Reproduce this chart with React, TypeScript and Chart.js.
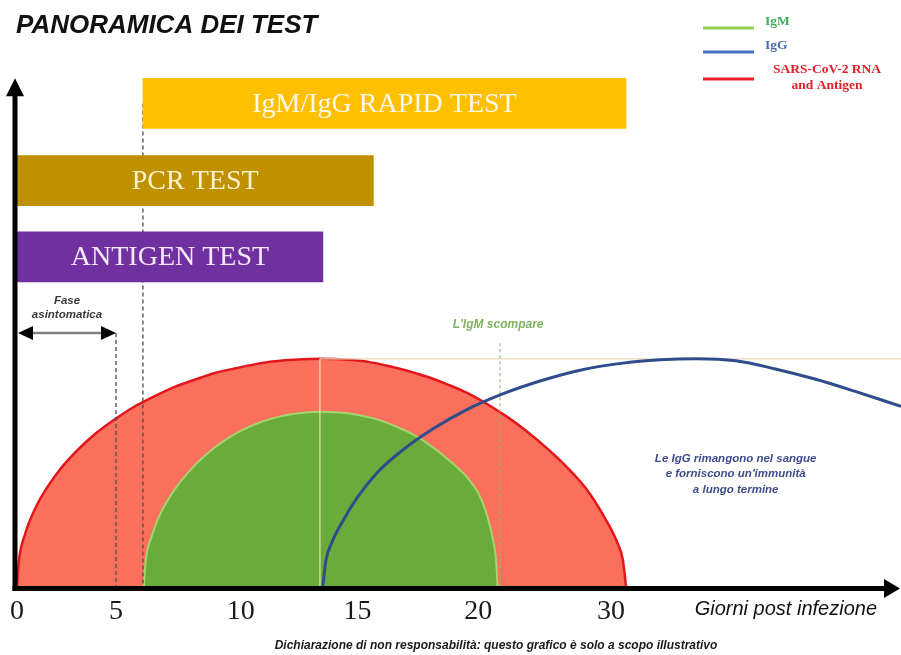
import React, { useEffect, useRef } from 'react';
import { Chart, registerables } from 'chart.js';

Chart.register(...registerables);

// ---------- text ----------
const chartTitle = 'PANORAMICA DEI TEST';
const xAxisTitle = 'Giorni post infezione';
const disclaimer = 'Dichiarazione di non responsabilità: questo grafico è solo a scopo illustrativo';
const asymptomaticLabel = ['Fase', 'asintomatica'];
const igmGoneLabel = "L'IgM scompare";
const iggNote = ['Le IgG rimangono nel sangue', "e forniscono un'immunità", 'a lungo termine'];

// ---------- x axis ticks ----------
const tickLabels = ['0', '5', '10', '15', '20', '30'];
const tickDays = [0, 5, 11.3, 17.2, 23.3, 30];
const xMax = 44.65;
const yMax = 104.2;

// ---------- test windows (floating bars) ----------
const testNames = ['IgM/IgG RAPID TEST', 'PCR TEST', 'ANTIGEN TEST'];
const testStart = [6.36, 0, 0];
const testEnd = [30.76, 18.0, 15.45];
const testLevel = [95.6, 80.3, 65.2];

// ---------- curves ----------
const rnaDays = [0, 0.1, 0.4, 1, 2, 3, 4, 5, 6, 7, 8, 9, 10, 11, 12, 13, 14, 15.38, 16.76, 17.76, 18.76, 19.76, 20.76, 21.76, 22.76, 23.76, 24.76, 25.76, 26.76, 27.76, 28.76, 29.76, 30.3, 30.6, 30.76];
const rnaLevel = [0, 5.1, 10.2, 16.0, 22.2, 26.7, 30.3, 33.2, 35.7, 37.7, 39.5, 40.9, 42.2, 43.1, 43.9, 44.5, 44.8, 45.0, 44.8, 44.4, 43.6, 42.6, 41.4, 39.9, 38.2, 36.0, 33.5, 30.6, 27.3, 23.6, 19.2, 13.0, 8.8, 5.2, 0];

const igmDays = [6.41, 6.5, 6.8, 7.2, 8, 9, 10, 11, 12, 13, 14, 15.35, 16.7, 18, 19.2, 20.2, 21.2, 22.0, 22.8, 23.4, 23.85, 24.08, 24.2, 24.27];
const igmLevel = [0, 4.9, 9.8, 14.0, 19.3, 24.0, 27.5, 30.1, 32.0, 33.3, 34.1, 34.5, 34.2, 33.2, 31.5, 29.6, 26.9, 24.3, 21.2, 17.6, 12.5, 8.5, 5.0, 0];

const iggDays = [15.45, 15.6, 15.9, 16.4, 17.2, 18.2, 19.5, 21, 22.7, 24.5, 26.5, 28.5, 30.5, 32.5, 34.3, 36.3, 38.3, 40.3, 42.3, 44.65];
const iggLevel = [0, 5.0, 8.6, 12.5, 17.6, 22.5, 27.0, 31.1, 34.9, 38.0, 40.7, 42.8, 44.1, 44.8, 45.0, 44.6, 43.0, 41.0, 38.6, 35.6];

// ---------- annotation values ----------
const asymptomaticEnd = 5.0;
const asymptomaticLevel = 50.1;
const peakDay = 15.3;
const peakLevel = 45;
const igmGoneDay = 24.4;
const igmGoneTop = 48.1;
const igmGoneTextLevel = 51.7;
const iggNoteDay = 36.3;
const iggNoteLevel = 22.2;

// ---------- styles ----------
const barColors = ['#FFC000', '#BF9000', '#7030A0'];
const barTextColors = ['#FFF8EA', '#FFF2CC', '#F4E8FB'];
const rnaFill = '#FB6F5D';
const rnaLine = '#E3161B';
const igmFill = '#69AC3C';
const igmLine = '#A2D56C';
const iggLine = '#2E4D8A';
const legendItems = [
  { lines: ['IgM'], line: '#92D050', text: '#3DAE5A', y: 28 },
  { lines: ['IgG'], line: '#4472C4', text: '#4A6DB0', y: 52 },
  { lines: ['SARS-CoV-2 RNA', 'and Antigen'], line: '#EE1C24', text: '#E2202A', y: 79 },
];

const toPoints = (xs: number[], ys: number[]) => xs.map((x, i) => ({ x, y: ys[i] }));

const overlay = {
  id: 'overlay',
  beforeDatasetDraw(chart: any, args: any) {
    const { ctx } = chart;
    const xs = chart.scales.x;
    const ys = chart.scales.y;
    const X = (v: number) => xs.getPixelForValue(v);
    const Y = (v: number) => ys.getPixelForValue(v);
    if (args.index === 1) {
      ctx.save();
      ctx.lineWidth = 1.2;
      ctx.strokeStyle = 'rgba(245,225,185,0.95)';
      ctx.beginPath();
      ctx.moveTo(X(peakDay), Y(peakLevel));
      ctx.lineTo(X(peakDay), Y(0));
      ctx.stroke();
      ctx.strokeStyle = '#E8D9B6';
      ctx.beginPath();
      ctx.moveTo(X(peakDay), Y(peakLevel));
      ctx.lineTo(X(xMax), Y(peakLevel));
      ctx.stroke();
      ctx.strokeStyle = 'rgba(140,190,110,0.9)';
      ctx.setLineDash([3, 3]);
      ctx.beginPath();
      ctx.moveTo(X(igmGoneDay), Y(igmGoneTop));
      ctx.lineTo(X(igmGoneDay), Y(0));
      ctx.stroke();
      ctx.restore();
    }
    if (args.index === 0) {
      ctx.save();
      ctx.strokeStyle = '#4A4A55';
      ctx.lineWidth = 1.3;
      ctx.setLineDash([4, 3]);
      ctx.beginPath();
      ctx.moveTo(X(testStart[0]), Y(testLevel[0]));
      ctx.lineTo(X(testStart[0]), Y(0));
      ctx.moveTo(X(asymptomaticEnd), Y(asymptomaticLevel));
      ctx.lineTo(X(asymptomaticEnd), Y(0));
      ctx.stroke();
      ctx.restore();
    }
  },
  afterDraw(chart: any) {
    const { ctx } = chart;
    const xs = chart.scales.x;
    const ys = chart.scales.y;
    const X = (v: number) => xs.getPixelForValue(v);
    const Y = (v: number) => ys.getPixelForValue(v);
    ctx.save();

    const meta = chart.getDatasetMeta(0);
    ctx.textAlign = 'center';
    ctx.textBaseline = 'middle';
    ctx.font = '28px "Liberation Serif", serif';
    meta.data.forEach((el: any, i: number) => {
      ctx.fillStyle = barTextColors[i];
      ctx.fillText(testNames[i], (el.x + el.base) / 2, el.y + 1);
    });

    const x0 = X(0);
    const y0 = Y(0);
    const yTop = Y(100.6);
    ctx.fillStyle = '#000';
    ctx.fillRect(x0 - 4.5, yTop + 14, 5, y0 + 5 - (yTop + 14));
    ctx.beginPath();
    ctx.moveTo(x0 - 2, yTop);
    ctx.lineTo(x0 - 11, yTop + 18);
    ctx.lineTo(x0 + 7, yTop + 18);
    ctx.closePath();
    ctx.fill();
    ctx.fillRect(x0 - 4.5, y0, 888 - (x0 - 4.5), 5);
    ctx.beginPath();
    ctx.moveTo(900, y0 + 2.5);
    ctx.lineTo(884, y0 + 2.5 - 9.5);
    ctx.lineTo(884, y0 + 2.5 + 9.5);
    ctx.closePath();
    ctx.fill();

    const ay = Y(asymptomaticLevel);
    const ax1 = x0 + 1;
    const ax2 = X(asymptomaticEnd);
    ctx.strokeStyle = '#808080';
    ctx.lineWidth = 2.5;
    ctx.beginPath();
    ctx.moveTo(ax1 + 10, ay);
    ctx.lineTo(ax2 - 10, ay);
    ctx.stroke();
    ctx.fillStyle = '#000';
    ctx.beginPath();
    ctx.moveTo(ax1, ay);
    ctx.lineTo(ax1 + 15, ay - 7);
    ctx.lineTo(ax1 + 15, ay + 7);
    ctx.closePath();
    ctx.fill();
    ctx.beginPath();
    ctx.moveTo(ax2, ay);
    ctx.lineTo(ax2 - 15, ay - 7);
    ctx.lineTo(ax2 - 15, ay + 7);
    ctx.closePath();
    ctx.fill();
    ctx.fillStyle = '#3A3A3A';
    ctx.font = 'italic bold 11.5px "Liberation Sans", Arial, sans-serif';
    ctx.textAlign = 'center';
    ctx.textBaseline = 'middle';
    const acx = (ax1 + ax2) / 2;
    ctx.fillText(asymptomaticLabel[0], acx, ay - 32);
    ctx.fillText(asymptomaticLabel[1], acx, ay - 18);

    ctx.fillStyle = '#7DB35F';
    ctx.font = 'italic bold 12px "Liberation Sans", Arial, sans-serif';
    ctx.fillText(igmGoneLabel, X(igmGoneDay) - 2, Y(igmGoneTextLevel));

    ctx.fillStyle = '#3F4C8C';
    ctx.font = 'italic bold 11.5px "Liberation Sans", Arial, sans-serif';
    iggNote.forEach((t, i) => ctx.fillText(t, X(iggNoteDay), Y(iggNoteLevel) + (i - 1) * 15.5));

    ctx.fillStyle = '#111';
    ctx.textAlign = 'left';
    ctx.font = 'italic bold 26px "Liberation Sans", Arial, sans-serif';
    ctx.fillText(chartTitle, 16, 26, 310);

    ctx.font = 'italic 20px "Liberation Sans", Arial, sans-serif';
    ctx.fillStyle = '#111';
    ctx.textAlign = 'right';
    ctx.fillText(xAxisTitle, 877, 609, 192);

    ctx.textAlign = 'center';
    ctx.font = 'italic bold 12px "Liberation Sans", Arial, sans-serif';
    ctx.fillStyle = '#1A1A1A';
    ctx.fillText(disclaimer, 496, 646, 497);

    legendItems.forEach((it) => {
      ctx.strokeStyle = it.line;
      ctx.lineWidth = 3;
      ctx.beginPath();
      ctx.moveTo(703, it.y);
      ctx.lineTo(754, it.y);
      ctx.stroke();
      ctx.fillStyle = it.text;
      ctx.font = 'bold 13.5px "Liberation Serif", serif';
      if (it.lines.length === 1) {
        ctx.textAlign = 'left';
        ctx.fillText(it.lines[0], 765, it.y - 6);
      } else {
        ctx.textAlign = 'center';
        ctx.fillText(it.lines[0], 827, it.y - 9);
        ctx.fillText(it.lines[1], 827, it.y + 7);
      }
    });

    ctx.restore();
  },
};

export default function App() {
  const ref = useRef<HTMLCanvasElement>(null);
  useEffect(() => {
    document.body.style.margin = '0';
    const chart = new Chart(ref.current as HTMLCanvasElement, {
      type: 'line',
      data: {
        datasets: [
          {
            type: 'bar',
            label: 'Test',
            indexAxis: 'y',
            data: testNames.map((_, i) => ({ y: testLevel[i], x: [testStart[i], testEnd[i]] })) as any,
            backgroundColor: barColors,
            borderWidth: 0,
            barThickness: 50,
            order: 0,
            clip: false as any,
          } as any,
          {
            type: 'line',
            label: 'IgG',
            data: toPoints(iggDays, iggLevel),
            borderColor: iggLine,
            borderWidth: 3,
            pointRadius: 0,
            fill: false,
            cubicInterpolationMode: 'monotone',
            order: 1,
          },
          {
            type: 'line',
            label: 'IgM',
            data: toPoints(igmDays, igmLevel),
            borderColor: igmLine,
            backgroundColor: igmFill,
            borderWidth: 2,
            pointRadius: 0,
            fill: 'origin',
            cubicInterpolationMode: 'monotone',
            order: 2,
          },
          {
            type: 'line',
            label: 'SARS-CoV-2 RNA and Antigen',
            data: toPoints(rnaDays, rnaLevel),
            borderColor: rnaLine,
            backgroundColor: rnaFill,
            borderWidth: 2.5,
            pointRadius: 0,
            fill: 'origin',
            cubicInterpolationMode: 'monotone',
            order: 3,
          },
        ],
      },
      options: {
        animation: false,
        responsive: false,
        devicePixelRatio: 1,
        events: [],
        layout: { padding: { top: 60, left: 17, right: 0, bottom: 0 } },
        plugins: { legend: { display: false }, tooltip: { enabled: false } },
        scales: {
          x: {
            type: 'linear',
            min: 0,
            max: xMax,
            offset: false,
            grid: { display: false, drawTicks: false, offset: false },
            border: { display: false },
            afterBuildTicks: (s: any) => {
              s.ticks = tickDays.map((v) => ({ value: v }));
            },
            afterFit: (s: any) => {
              s.height = 69;
            },
            ticks: {
              autoSkip: false,
              maxRotation: 0,
              padding: 9,
              color: '#1A1A1A',
              font: { family: '"Liberation Serif", serif', size: 28 },
              callback: (_v: any, i: number) => tickLabels[i],
            },
          },
          y: { type: 'linear', min: 0, max: yMax, display: false, offset: false, grid: { offset: false } },
        },
      } as any,
      plugins: [overlay],
    });
    return () => chart.destroy();
  }, []);
  return (
    <div style={{ width: 901, height: 655, position: 'relative', background: '#fff' }}>
      <canvas ref={ref} width={901} height={655} style={{ display: 'block' }} />
    </div>
  );
}
